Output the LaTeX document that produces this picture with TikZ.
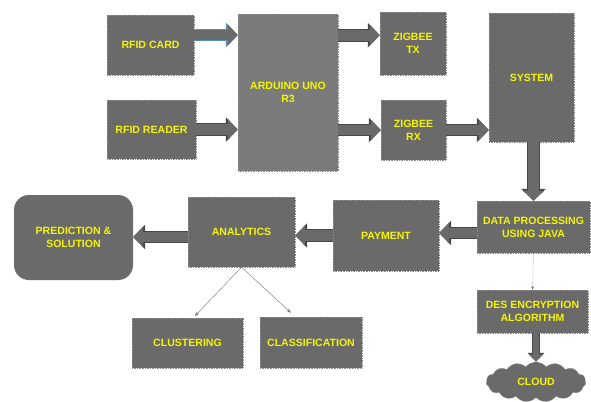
\documentclass[tikz,border=0pt]{standalone}
\usepackage{fontspec}
\setmainfont{Liberation Sans}
\usetikzlibrary{arrows.meta,shapes.symbols}
\definecolor{boxgray}{HTML}{6A6A6A}
\definecolor{unogray}{HTML}{7B7B7B}
\definecolor{edgegray}{HTML}{474747}
\definecolor{linkblue}{HTML}{5B8DB8}
\definecolor{labelyellow}{HTML}{F5F500}
\tikzset{
  block/.style={draw=black!45, densely dotted, fill=boxgray, text=labelyellow,
    font=\bfseries\fontsize{9}{11}\selectfont, align=center, inner sep=2pt},
  fatarrow/.default=edgegray,
  fatarrow/.style={draw=boxgray, line width=0.32cm, -{Triangle[width=0.62cm,length=0.3cm]},
    preaction={draw=#1, line width=0.38cm, -{Triangle[width=0.72cm,length=0.36cm]}}},
  smallarrow/.style={draw=boxgray, line width=0.18cm, -{Triangle[width=0.4cm,length=0.22cm]},
    preaction={draw=edgegray, line width=0.24cm, -{Triangle[width=0.5cm,length=0.27cm]}}},
  thinarrow/.style={draw=gray, thin, -{Stealth[length=4pt]}}
}
\begin{document}
\begin{tikzpicture}
\useasboundingbox (0,0) rectangle (17.73,-12.03);
% top row
\node[block, minimum width=2.61cm, minimum height=1.8cm] (card) at (4.515,-1.35) {RFID CARD};
\node[block, minimum width=2.67cm, minimum height=1.77cm] (reader) at (4.545,-3.885) {RFID READER};
\node[block, fill=unogray, minimum width=3cm, minimum height=4.71cm] (arduino) at (8.64,-2.775) {ARDUINO UNO\\R3};
\node[block, minimum width=1.98cm, minimum height=1.89cm] (tx) at (12.39,-1.305) {ZIGBEE\\TX};
\node[block, minimum width=1.95cm, minimum height=1.8cm] (rx) at (12.405,-3.9) {ZIGBEE\\RX};
\node[block, minimum width=2.55cm, minimum height=3.87cm] (system) at (15.945,-2.325) {SYSTEM};
% middle row
\node[block, minimum width=3.39cm, minimum height=1.56cm] (data) at (16.005,-6.81) {DATA PROCESSING\\USING JAVA};
\node[block, minimum width=3.18cm, minimum height=2.13cm] (payment) at (11.58,-7.065) {PAYMENT};
\node[block, minimum width=3.21cm, minimum height=2.1cm] (analytics) at (7.245,-6.96) {ANALYTICS};
\node[block, rounded corners=0.45cm, minimum width=3.57cm, minimum height=2.55cm] (prediction) at (2.205,-7.125) {PREDICTION \&\\SOLUTION};
% bottom row
\node[block, minimum width=3.33cm, minimum height=1.5cm] (clustering) at (5.625,-10.29) {CLUSTERING};
\node[block, minimum width=3.06cm, minimum height=1.53cm] (classification) at (9.33,-10.275) {CLASSIFICATION};
\node[block, minimum width=3.33cm, minimum height=1.29cm] (des) at (15.975,-9.345) {DES ENCRYPTION\\ALGORITHM};
\node[block, cloud, cloud puffs=15, cloud puff arc=100, aspect=2.6, minimum width=3cm, minimum height=1.2cm] (cloud) at (16.08,-11.46) {CLOUD};
% connectors
\draw[fatarrow=linkblue] ([yshift=0.3cm]card.east) -- ([yshift=0.3cm]card.east -| arduino.west);
\draw[fatarrow] (reader.east) -- (reader.east -| arduino.west);
\draw[fatarrow] ([yshift=0.25cm]tx.west -| arduino.east) -- ([yshift=0.25cm]tx.west);
\draw[fatarrow] (rx.west -| arduino.east) -- (rx.west);
\draw[fatarrow] (rx.east) -- (rx.east -| system.west);
\draw[fatarrow] (data.north |- system.south) -- (data.north);
\draw[fatarrow] ([yshift=-0.18cm]data.west) -- ([yshift=-0.18cm]data.west -| payment.east);
\draw[fatarrow] (payment.west) -- (payment.west -| analytics.east);
\draw[fatarrow] ([yshift=-0.15cm]analytics.west) -- ([yshift=-0.15cm]analytics.west -| prediction.east);
\draw[smallarrow] (cloud.north |- des.south) -- (cloud.north);
\draw[gray!80!black, densely dotted, -{Stealth[length=3pt]}] (data.south) -- (des.north);
\draw[thinarrow] (analytics.south) -- ([xshift=0.22cm,yshift=0.05cm]clustering.north);
\draw[thinarrow] (analytics.south) -- ([xshift=-0.6cm,yshift=0.12cm]classification.north);
\end{tikzpicture}
\end{document}
